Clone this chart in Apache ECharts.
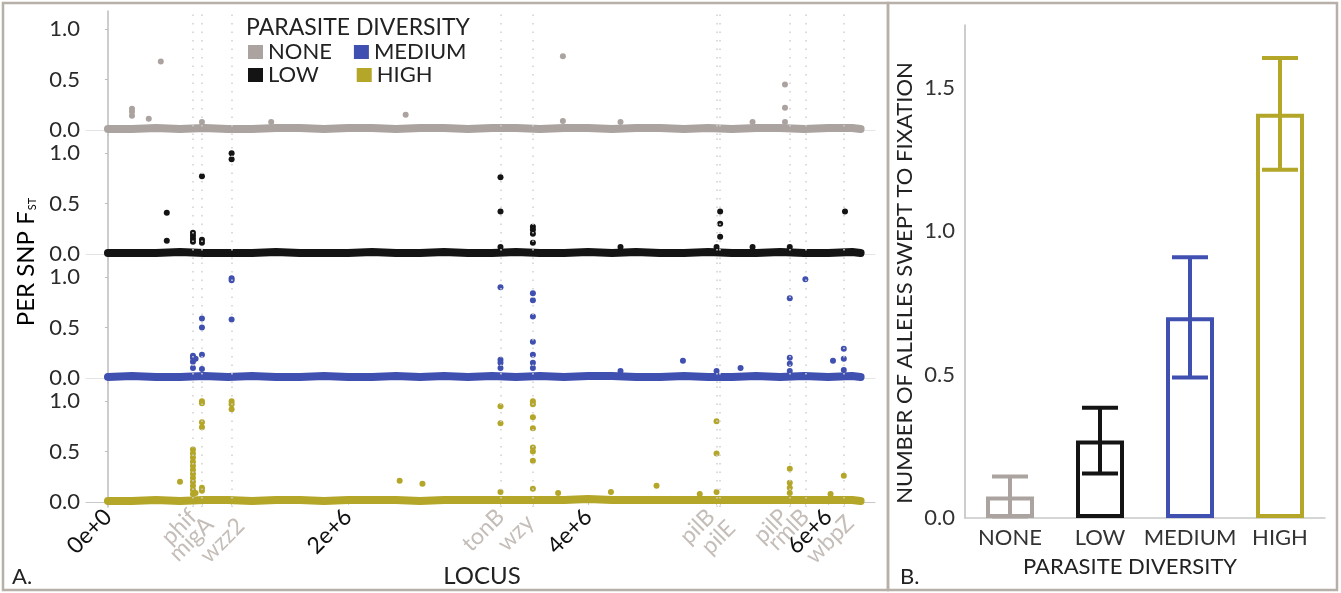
<!DOCTYPE html>
<html>
<head>
<meta charset="utf-8">
<script src="https://cdn.jsdelivr.net/npm/echarts@6/dist/echarts.min.js"></script>
<style>
  html, body { margin: 0; padding: 0; background: #fff; }
  #chart { width: 1341px; height: 593px; }
</style>
</head>
<body>
<div id="chart"></div>
<script>
// panel A: per SNP Fst along the genome
const levels = ['NONE', 'LOW', 'MEDIUM', 'HIGH'];
const geneNames = ['phif', 'migA', 'wzz2', 'tonB', 'wzy', 'pilB', 'pilE', 'pilP', 'rmlB', 'wbpZ'];
const geneLoci = [708000, 783000, 1030000, 3270000, 3540000, 5070000, 5100000, 5680000, 5810000, 6130000];
const locusTicks = [0, 2000000, 4000000, 6000000];
const locusTickLabels = ['0e+0', '2e+6', '4e+6', '6e+6'];
const fstTicks = [0, 0.5, 1.0];

// dense background band of SNPs (read roughly)
const bandLoci = [0, 200000, 400000, 600000, 800000, 1000000, 1200000, 1400000, 1600000, 1800000,
  2000000, 2200000, 2400000, 2600000, 2800000, 3000000, 3200000, 3400000, 3600000, 3800000,
  4000000, 4200000, 4400000, 4600000, 4800000, 5000000, 5200000, 5400000, 5600000, 5800000,
  6000000, 6200000, 6270000];
const noneBand = [0.01, 0.01, 0.02, 0.01, 0.02, 0.01, 0.01, 0.02, 0.02, 0.01, 0.02, 0.02, 0.01, 0.02, 0.02, 0.01,
  0.02, 0.02, 0.01, 0.02, 0.02, 0.01, 0.02, 0.02, 0.01, 0.02, 0.01, 0.02, 0.02, 0.01, 0.02, 0.02, 0.01];
const lowBand = [0.01, 0.01, 0.01, 0.02, 0.01, 0.01, 0.01, 0.02, 0.01, 0.01, 0.01, 0.02, 0.01, 0.01, 0.02, 0.01,
  0.01, 0.02, 0.01, 0.01, 0.02, 0.01, 0.02, 0.01, 0.01, 0.02, 0.01, 0.01, 0.02, 0.01, 0.01, 0.02, 0.01];
const mediumBand = [0.01, 0.02, 0.01, 0.01, 0.02, 0.01, 0.02, 0.01, 0.01, 0.02, 0.01, 0.01, 0.02, 0.01, 0.02, 0.01,
  0.02, 0.01, 0.02, 0.01, 0.02, 0.02, 0.01, 0.01, 0.02, 0.01, 0.01, 0.02, 0.01, 0.02, 0.01, 0.02, 0.01];
const highBand = [0.01, 0.01, 0.02, 0.01, 0.02, 0.02, 0.01, 0.02, 0.02, 0.01, 0.02, 0.02, 0.02, 0.01, 0.02, 0.02,
  0.02, 0.02, 0.02, 0.02, 0.03, 0.02, 0.02, 0.02, 0.02, 0.02, 0.02, 0.02, 0.02, 0.02, 0.02, 0.02, 0.01];

// SNPs standing out of the band: [locus, Fst]
const noneSNPs = [[200000, 0.21], [200000, 0.18], [200000, 0.14], [340000, 0.11], [440000, 0.68],
  [783000, 0.08], [1360000, 0.08], [2480000, 0.15], [3790000, 0.73], [3790000, 0.09], [4270000, 0.08],
  [5370000, 0.08], [5640000, 0.45], [5640000, 0.22], [5640000, 0.08]];
const lowSNPs = [[490000, 0.41], [490000, 0.13], [708000, 0.21], [708000, 0.18], [708000, 0.15], [708000, 0.12],
  [783000, 0.77], [783000, 0.14], [783000, 0.11], [1030000, 1.0], [1030000, 0.94],
  [3270000, 0.76], [3270000, 0.42], [3270000, 0.07], [3540000, 0.27], [3540000, 0.24], [3540000, 0.2],
  [3540000, 0.11], [4270000, 0.07], [5070000, 0.07], [5100000, 0.42], [5100000, 0.3], [5100000, 0.17],
  [5370000, 0.07], [5680000, 0.07], [6140000, 0.42]];
const mediumSNPs = [[708000, 0.22], [708000, 0.2], [708000, 0.16], [708000, 0.1], [730000, 0.19],
  [783000, 0.59], [783000, 0.5], [783000, 0.23], [783000, 0.09], [1030000, 0.99], [1030000, 0.97], [1030000, 0.58],
  [3270000, 0.9], [3270000, 0.18], [3270000, 0.15], [3270000, 0.1], [3540000, 0.84], [3540000, 0.77],
  [3540000, 0.61], [3540000, 0.36], [3540000, 0.23], [3540000, 0.15], [3540000, 0.1], [4270000, 0.07],
  [4790000, 0.17], [5070000, 0.07], [5270000, 0.1], [5680000, 0.79], [5680000, 0.2], [5680000, 0.14],
  [5680000, 0.07], [5810000, 0.98], [6040000, 0.17], [6130000, 0.29], [6130000, 0.19], [6130000, 0.08]];
const highSNPs = [[600000, 0.2], [708000, 0.52], [708000, 0.48], [708000, 0.44], [708000, 0.4], [708000, 0.36],
  [708000, 0.32], [708000, 0.28], [708000, 0.24], [708000, 0.2], [708000, 0.16], [708000, 0.12], [708000, 0.08],
  [730000, 0.09], [783000, 1.0], [783000, 0.98], [783000, 0.79], [783000, 0.74], [783000, 0.14], [783000, 0.11],
  [1030000, 1.0], [1030000, 0.97], [1030000, 0.92], [2430000, 0.21], [2620000, 0.18],
  [3270000, 0.95], [3270000, 0.78], [3270000, 0.1], [3540000, 1.0], [3540000, 0.97], [3540000, 0.84],
  [3540000, 0.73], [3540000, 0.54], [3540000, 0.5], [3540000, 0.41], [3540000, 0.13], [3750000, 0.09],
  [4190000, 0.1], [4570000, 0.16], [4930000, 0.08], [5070000, 0.8], [5070000, 0.48], [5070000, 0.1],
  [5680000, 0.33], [5680000, 0.19], [5680000, 0.14], [5680000, 0.09], [6020000, 0.08], [6130000, 0.26]];

// panel B: alleles swept to fixation
const sweepCategories = ['NONE', 'LOW', 'MEDIUM', 'HIGH'];
const sweepMeans = [0.075, 0.27, 0.70, 1.41];
const sweepErrors = [0.07, 0.115, 0.21, 0.195];
const sweepTicks = [0, 0.5, 1.0, 1.5];

const colors = ['#aaa39f', '#141414', '#4050b0', '#b3a628'];
const FONT = 'Lato';
const bands = [noneBand, lowBand, mediumBand, highBand];
const snps = [noneSNPs, lowSNPs, mediumSNPs, highSNPs];

// gene labels are nudged apart like in the original (padding on the rotated label)
const genePad = {
    phif: [0, 0, 0, 0], migA: [22, 0, 0, 0], wzz2: [26, 0, 0, 0], tonB: [0, 0, 0, 0], wzy: [4, 6, 0, 0],
    pilB: [0, 4, 8, 0], pilE: [32, 0, 0, 0], pilP: [0, 4, 8, 0], rmlB: [0, 0, 0, 0], wbpZ: [18, 0, 0, 0]
};
const geneRich = {};
geneNames.forEach(g => {
    geneRich[g] = { fontFamily: FONT, fontSize: 23, color: '#c4bdb8', padding: genePad[g] };
});
geneRich.n = { fontFamily: FONT, fontSize: 23, color: '#111' };

const chart = echarts.init(document.getElementById('chart'));

const panelTop = [11, 135, 259, 383];
const panelH = 124;

const grids = [];
const xAxes = [];
const yAxes = [];
const series = [];

levels.forEach((lvl, i) => {
    grids.push({ left: 86, right: 466, top: panelTop[i], height: panelH });
    const last = i === levels.length - 1;
    xAxes.push({
        type: 'value',
        gridIndex: i,
        min: -183000,
        max: 6390000,
        splitLine: { show: false },
        axisLine: { show: true, lineStyle: { color: last ? '#c8c8c8' : '#e4e4e4', width: 1 } },
        axisTick: last ? {
            show: true, length: 3, lineStyle: { color: '#c8c8c8' },
            customValues: locusTicks.concat(geneLoci)
        } : { show: false },
        axisLabel: last ? {
            show: true,
            rotate: 45,
            margin: 6,
            hideOverlap: false,
            customValues: locusTicks.concat(geneLoci),
            formatter: function (v) {
                const g = geneLoci.indexOf(v);
                if (g >= 0) return '{' + geneNames[g] + '|' + geneNames[g] + '}';
                return '{n|' + locusTickLabels[locusTicks.indexOf(v)] + '}';
            },
            rich: geneRich
        } : { show: false }
    });
    yAxes.push({
        type: 'value',
        gridIndex: i,
        min: -0.05,
        max: 1.18,
        splitLine: { show: false },
        axisLine: { show: true, lineStyle: { color: '#bdbdbd', width: 1.5 } },
        axisTick: { show: true, length: 3, customValues: fstTicks, lineStyle: { color: '#bdbdbd' } },
        axisLabel: {
            customValues: fstTicks,
            margin: 6,
            formatter: v => v.toFixed(1),
            fontFamily: FONT, fontSize: 22, color: '#2a2a2a'
        }
    });
    series.push({
        name: lvl,
        type: 'line',
        xAxisIndex: i,
        yAxisIndex: i,
        showSymbol: false,
        symbol: 'circle',
        silent: true,
        lineStyle: { color: colors[i], width: 8, cap: 'round', join: 'round' },
        itemStyle: { color: colors[i] },
        data: bandLoci.map((x, k) => [x, bands[i][k]]),
        z: 3
    });
    series.push({
        name: lvl,
        type: 'scatter',
        xAxisIndex: i,
        yAxisIndex: i,
        symbolSize: 6,
        itemStyle: { color: colors[i], opacity: 1 },
        data: snps[i],
        z: 4,
        markLine: {
            silent: true,
            symbol: ['none', 'none'],
            label: { show: false },
            lineStyle: { color: '#cfcfcf', type: [1.5, 7], width: 1.5 },
            data: geneLoci.map(v => ({ xAxis: v }))
        }
    });
});

// panel B grid
grids.push({ left: 965, right: 16, top: 25, bottom: 75 });
xAxes.push({
    type: 'category',
    gridIndex: 4,
    data: sweepCategories,
    axisLine: { show: true, lineStyle: { color: '#c8c8c8', width: 1.5 } },
    axisTick: { show: false },
    axisLabel: { interval: 0, margin: 9, fontFamily: FONT, fontSize: 22, color: '#333' }
});
yAxes.push({
    type: 'value',
    gridIndex: 4,
    min: 0,
    max: 1.72,
    splitLine: { show: false },
    axisLine: { show: true, lineStyle: { color: '#bdbdbd', width: 1.5 } },
    axisTick: { show: false },
    axisLabel: {
        customValues: sweepTicks,
        margin: 10,
        formatter: v => v.toFixed(1),
        fontFamily: FONT, fontSize: 22, color: '#333'
    }
});
series.push({
    type: 'bar',
    xAxisIndex: 4,
    yAxisIndex: 4,
    barWidth: 48,
    silent: true,
    data: sweepMeans.map((m, i) => ({
        value: m,
        itemStyle: { color: '#fff', borderColor: colors[i], borderWidth: 4 }
    }))
});
series.push({
    type: 'custom',
    xAxisIndex: 4,
    yAxisIndex: 4,
    silent: true,
    data: sweepMeans.map((m, i) => [i, Math.max(m - sweepErrors[i], 0.005), m + sweepErrors[i]]),
    renderItem: function (params, api) {
        const lo = api.coord([api.value(0), api.value(1)]);
        const hi = api.coord([api.value(0), api.value(2)]);
        const half = 18;
        const style = { stroke: colors[params.dataIndex], lineWidth: 4 };
        return {
            type: 'group',
            children: [
                { type: 'line', shape: { x1: hi[0], y1: hi[1], x2: lo[0], y2: lo[1] }, style: style },
                { type: 'line', shape: { x1: hi[0] - half, y1: hi[1], x2: hi[0] + half, y2: hi[1] }, style: style },
                { type: 'line', shape: { x1: lo[0] - half, y1: lo[1], x2: lo[0] + half, y2: lo[1] }, style: style }
            ]
        };
    },
    z: 5
});

const legendText = { fontFamily: FONT, fontSize: 22, color: '#222' };

const option = {
    animation: false,
    backgroundColor: '#fff',
    grid: grids,
    xAxis: xAxes,
    yAxis: yAxes,
    legend: [
        { data: ['NONE', 'MEDIUM'], left: 248, top: 41, icon: 'rect', itemWidth: 15, itemHeight: 14,
          itemGap: 22, selectedMode: false, textStyle: legendText, padding: 0 },
        { data: ['LOW', 'HIGH'], left: 248, top: 64, icon: 'rect', itemWidth: 15, itemHeight: 14,
          itemGap: 38, selectedMode: false, textStyle: legendText, padding: 0 }
    ],
    graphic: [
        { type: 'rect', shape: { x: 3, y: 3, width: 885, height: 587 },
          style: { fill: 'none', stroke: '#b7b0a8', lineWidth: 2.5 }, silent: true },
        { type: 'rect', shape: { x: 888, y: 3, width: 449, height: 587 },
          style: { fill: 'none', stroke: '#b7b0a8', lineWidth: 2.5 }, silent: true },
        { type: 'text', left: 246, top: 16,
          style: { text: 'PARASITE DIVERSITY', font: '23px ' + FONT, fill: '#222' } },
        { type: 'text', x: 26, y: 262, rotation: Math.PI / 2,
          style: {
              text: '{a|PER SNP F}{s|ST}', align: 'center', verticalAlign: 'middle',
              rich: {
                  a: { fontFamily: FONT, fontSize: 24, color: '#222' },
                  s: { fontFamily: FONT, fontSize: 11, color: '#222', verticalAlign: 'bottom', padding: [12, 0, 0, 1] }
              }
          } },
        { type: 'text', x: 482, y: 576,
          style: { text: 'LOCUS', font: '24px ' + FONT, fill: '#222', align: 'center', verticalAlign: 'middle' } },
        { type: 'text', x: 12, y: 577,
          style: { text: 'A.', font: '22px ' + FONT, fill: '#222', align: 'left', verticalAlign: 'middle' } },
        { type: 'text', x: 900, y: 577,
          style: { text: 'B.', font: '22px ' + FONT, fill: '#222', align: 'left', verticalAlign: 'middle' } },
        { type: 'text', x: 1130, y: 567,
          style: { text: 'PARASITE DIVERSITY', font: '22px ' + FONT, fill: '#222', align: 'center', verticalAlign: 'middle' } },
        { type: 'text', x: 905, y: 283, rotation: Math.PI / 2,
          style: { text: 'NUMBER OF ALLELES SWEPT TO FIXATION', font: '22px ' + FONT, fill: '#222',
                   align: 'center', verticalAlign: 'middle' } }
    ],
    series: series
};

chart.setOption(option);

window.addEventListener('resize', function () {
    chart.resize();
});
</script>
</body>
</html>
